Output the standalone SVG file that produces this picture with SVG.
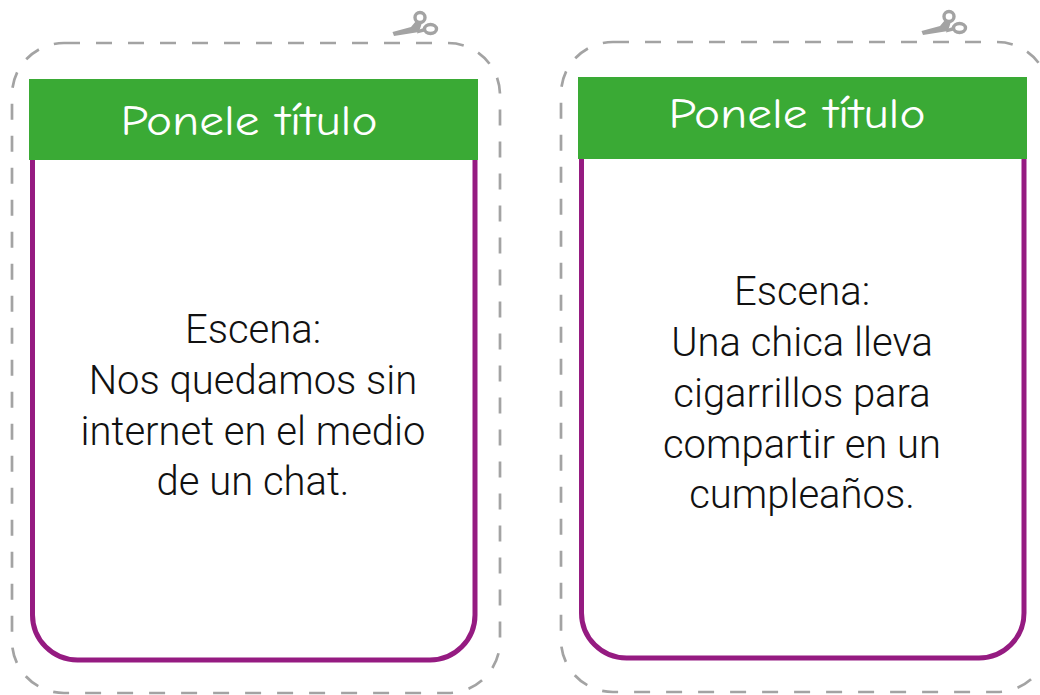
<svg xmlns="http://www.w3.org/2000/svg" width="1040" height="695" viewBox="0 0 1040 695">
<style>
.cut{fill:none;stroke:#a3a3a3;stroke-width:2.7;stroke-dasharray:16 16}
.hdr{fill:#3aaa35}
.frame{fill:none;stroke:#951b81;stroke-width:5}
.title{font-family:"Comic Neue","DejaVu Sans",sans-serif;font-size:42px;fill:#ffffff;text-anchor:middle}
.body{font-family:Roboto,"Liberation Sans",sans-serif;font-weight:300;font-size:40px;fill:#111111;text-anchor:middle}
.sc{fill:#a3a3a3}
.scr{fill:none;stroke:#a3a3a3;stroke-width:3.4}
</style>
<rect width="1040" height="695" fill="#ffffff"/>
<g id="card1">
<rect class="cut" x="12" y="43" width="488" height="650" rx="52"/>
<g id="scissors1">
<circle class="scr" cx="420" cy="17.5" r="5"/>
<ellipse class="scr" cx="430.5" cy="29" rx="6" ry="4.5"/>
<path class="sc" d="M416,21 L422.5,21 L419,32 L394,36 L392.5,32 L411,27 Z"/>
<path class="sc" d="M418,30 L425,27.5 L425,31.5 L417,33.5 Z"/>
</g>
<rect class="hdr" x="29" y="79" width="449" height="81"/>
<path class="frame" d="M32.5,160 V615 A45,45 0 0 0 77.5,660 H430 A45,45 0 0 0 475,615 V160"/>
<text class="title" x="249" y="135" textLength="257" lengthAdjust="spacingAndGlyphs">Ponele título</text>
<text class="body" x="253" y="343">Escena:</text>
<text class="body" x="253" y="394">Nos quedamos sin</text>
<text class="body" x="253" y="445">internet en el medio</text>
<text class="body" x="253" y="495">de un chat.</text>
</g>
<g id="card2">
<rect class="cut" x="561" y="42" width="488" height="650" rx="52"/>
<g id="scissors2">
<circle class="scr" cx="949" cy="16.5" r="5"/>
<ellipse class="scr" cx="959.5" cy="28" rx="6" ry="4.5"/>
<path class="sc" d="M945,20 L951.5,20 L948,31 L923,35 L921.5,31 L940,26 Z"/>
<path class="sc" d="M947,29 L954,26.5 L954,30.5 L946,32.5 Z"/>
</g>
<rect class="hdr" x="578" y="77" width="449" height="82"/>
<path class="frame" d="M581.5,159 V613 A45,45 0 0 0 626.5,658 H979 A45,45 0 0 0 1024,613 V159"/>
<text class="title" x="797" y="128" textLength="257" lengthAdjust="spacingAndGlyphs">Ponele título</text>
<text class="body" x="802" y="305">Escena:</text>
<text class="body" x="802" y="356">Una chica lleva</text>
<text class="body" x="802" y="407">cigarrillos para</text>
<text class="body" x="802" y="458">compartir en un</text>
<text class="body" x="802" y="508">cumpleaños.</text>
</g>
</svg>
